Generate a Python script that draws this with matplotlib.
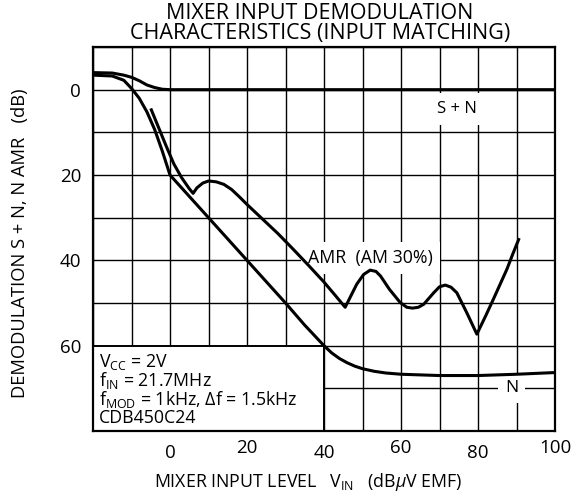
import matplotlib
matplotlib.use('Agg')
import matplotlib.pyplot as plt
from matplotlib.patches import Rectangle

plt.rcParams['font.family'] = ['Open Sans', 'DejaVu Sans']
plt.rcParams['mathtext.fontset'] = 'custom'
plt.rcParams['mathtext.rm'] = 'Open Sans'
plt.rcParams['mathtext.it'] = 'Open Sans:italic'
plt.rcParams['mathtext.bf'] = 'Open Sans:bold'

# ---- data ----
sn_x = [-20, -15, -12, -10, -8, -6, -4, -2, 0, 20, 40, 60, 80, 100]
sn_y = [-4.0, -3.9, -3.4, -2.9, -2.1, -1.1, -0.5, -0.1, 0, 0, 0, 0, 0, 0]

n_x = [-20, -15, -12, -10, -8, -6, -4, -2, 0, 10, 20, 30, 35, 40, 42, 44, 46,
       48, 50, 53, 56, 60, 70, 80, 90, 100]
n_y = [-3.4, -3.2, -2.2, -0.3, 2.0, 5.2, 9.3, 14.4, 20, 30, 40, 50, 55.2, 60,
       61.7, 63.0, 64.0, 64.8, 65.4, 66.0, 66.4, 66.7, 67.0, 67.0, 66.7, 66.3]

amr_x = [-5, -3, -1, 1, 3, 5, 6, 7, 8.5, 10, 12, 14, 16, 18, 20, 24, 28, 32,
         36, 40, 43, 45.5, 47, 48.5, 50.3, 52, 53.5, 54.7, 57, 59.8, 61.5, 63,
         64.5, 65.9, 68.5, 70, 71.5, 73, 74.5, 77.1, 79.7, 82, 84, 87.5, 89, 90.7]
amr_y = [4.4, 8.8, 13.2, 17.4, 20.6, 23.2, 24.3, 23.0, 21.9, 21.4, 21.6, 22.2,
         23.4, 25.1, 26.9, 30.3, 33.7, 37.4, 41.2, 45.1, 48.3, 51.0, 48.3, 45.6,
         43.3, 42.3, 42.6, 43.7, 46.8, 49.9, 51.0, 51.2, 51.0, 50.3, 47.6, 46.2,
         45.8, 46.3, 47.6, 52.3, 57.3, 53.0, 49.1, 42.1, 38.6, 34.8]

x_ticks = [0, 20, 40, 60, 80, 100]
x_tick_labels = ['0', '20', '40', '60', '80', '100']
y_ticks = [0, 20, 40, 60]
y_tick_labels = ['0', '20', '40', '60']
x_grid = list(range(-20, 101, 10))
y_grid = list(range(-10, 81, 10))

info_lines = ['V$_{\\mathrm{CC}}$ = 2V',
              'f$_{\\mathrm{IN}}$ = 21.7MHz',
              'f$_{\\mathrm{MOD}}$ = 1kHz, $\\mathit{\\Delta}$f = 1.5kHz',
              'CDB450C24']

# ---- figure ----
fig = plt.figure(figsize=(5.75, 5), dpi=100)
ax = fig.add_axes([93/575, 69/500, 462/575, 384/500])
ax.set_xlim(-20, 100)
ax.set_ylim(80, -10)

ax.set_xticks(x_ticks)
ax.set_xticklabels(x_tick_labels)
ax.set_xticks(x_grid, minor=True)
ax.set_yticks(y_ticks)
ax.set_yticklabels(y_tick_labels)
ax.set_yticks(y_grid, minor=True)
ax.grid(which='both', color='black', lw=1.0)
ax.tick_params(which='both', length=0)
ax.tick_params(axis='both', labelsize=13.5)
ax.tick_params(axis='y', pad=8.5)
for i, t in enumerate(ax.xaxis.get_major_ticks()):
    t.set_pad(5.5 if i % 2 else 9.5)
for s in ax.spines.values():
    s.set_linewidth(1.6)
    s.set_zorder(6)

# info box
ax.add_patch(Rectangle((-20, 60), 60, 20, fc='white', ec='black', lw=1.4, zorder=2.5))
ax.text(0.012, 0.205, '\n'.join(info_lines), transform=ax.transAxes,
        ha='left', va='top', fontsize=12.8, linespacing=0.88, zorder=3)

# curves
for xs, ys in [(sn_x, sn_y), (n_x, n_y), (amr_x, amr_y)]:
    ax.plot(xs, ys, color='black', lw=2.2, zorder=5,
            solid_joinstyle='round', solid_capstyle='butt')

# curve labels
ax.text(74.6, 4.5, 'S + N', ha='center', va='center', fontsize=12, zorder=3,
        bbox=dict(fc='white', ec='none', boxstyle='square,pad=0.5'))
ax.text(52.1, 39.5, 'AMR  (AM 30%)', ha='center', va='center', fontsize=12.8, zorder=3,
        bbox=dict(fc='white', ec='none', boxstyle='square,pad=0.4'))
ax.text(88.7, 70.0, 'N', ha='center', va='center', fontsize=12.5, zorder=3,
        bbox=dict(fc='white', ec='none', boxstyle='square,pad=0.4'))

# titles and axis labels
fig.text(320/575, 1 - 3/500, 'MIXER INPUT DEMODULATION\nCHARACTERISTICS (INPUT MATCHING)',
         ha='center', va='top', fontsize=15.5, linespacing=0.92)
fig.text(154/575, 13/500, 'MIXER INPUT LEVEL   V$_{\\mathrm{IN}}$   (dB$\\mu$V EMF)',
         ha='left', va='baseline', fontsize=12.8)
fig.text(20/575, 1 - 243/500, 'DEMODULATION S + N, N AMR   (dB)', rotation=90,
         ha='center', va='center', fontsize=13.2)

fig.savefig('out.png', dpi=100)
